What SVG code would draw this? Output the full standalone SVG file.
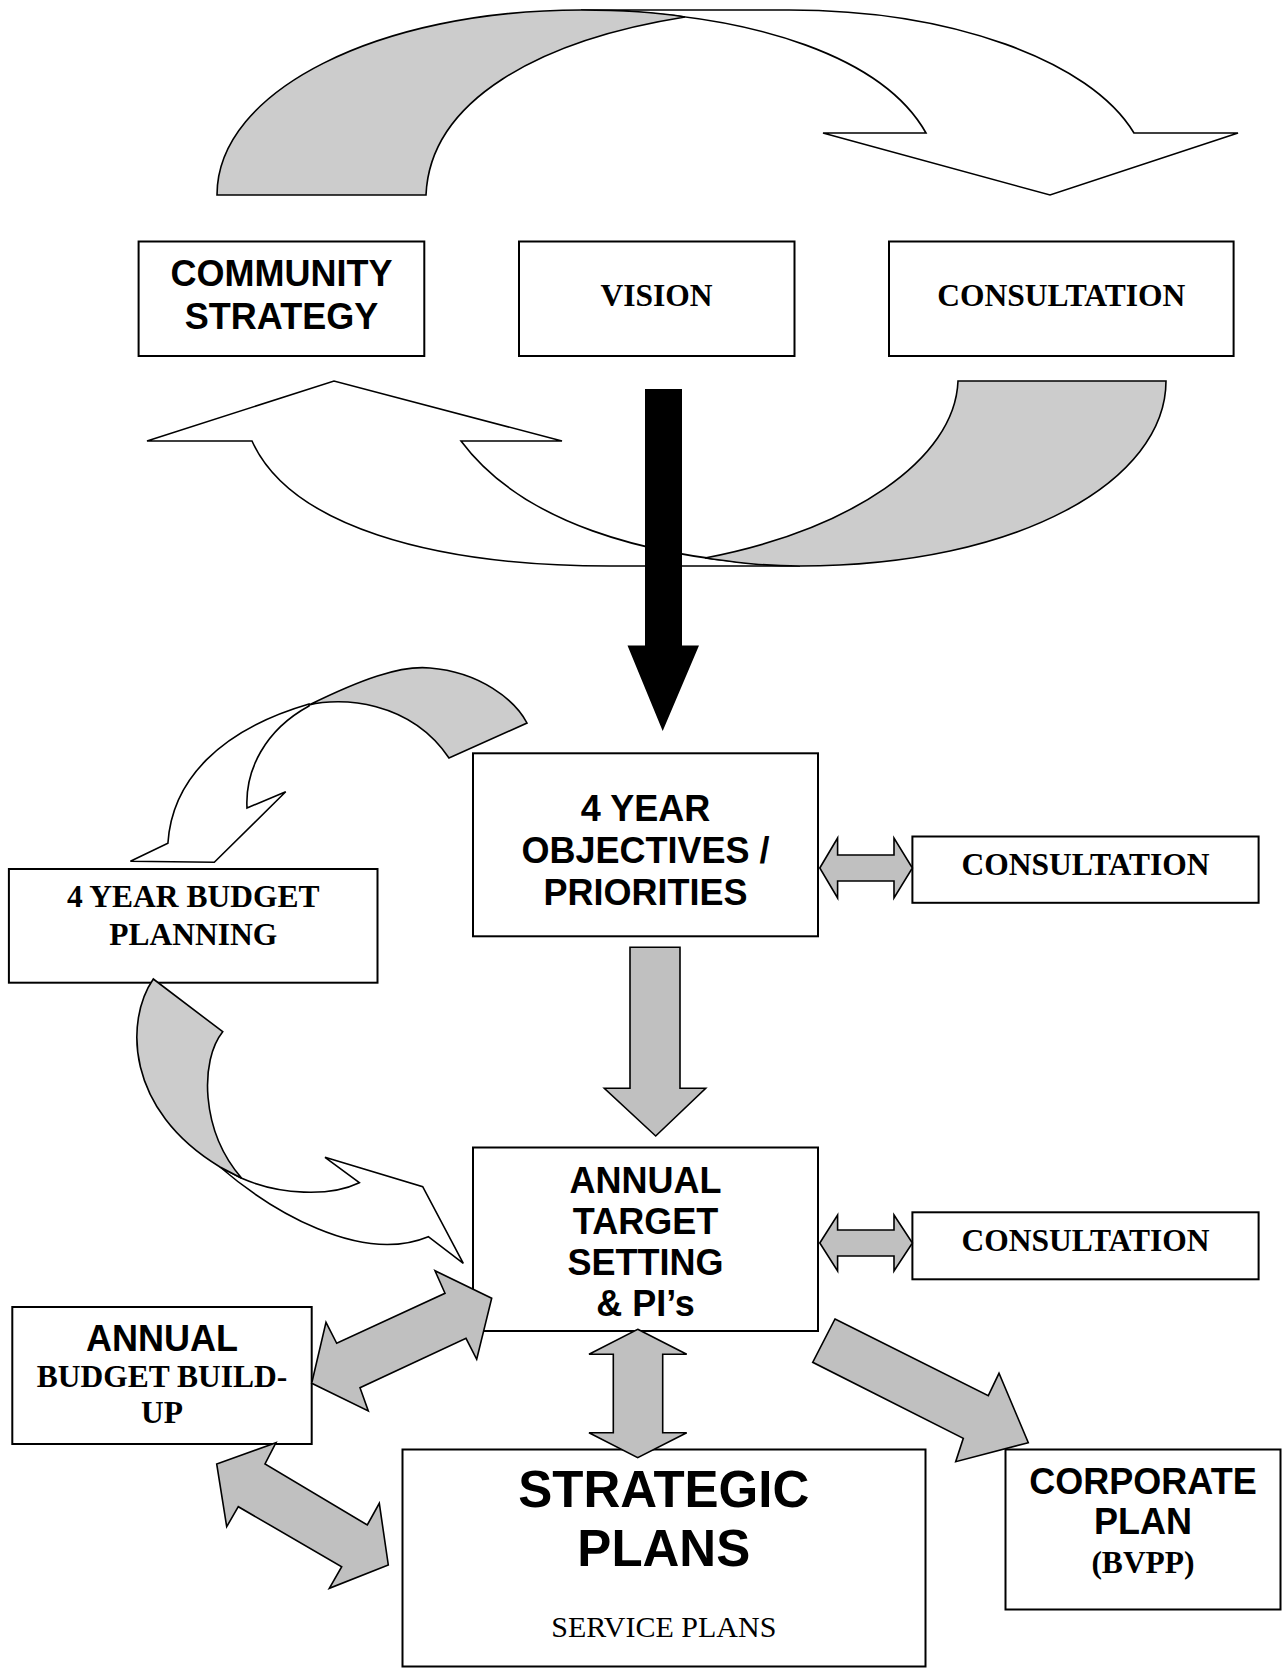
<svg xmlns="http://www.w3.org/2000/svg" width="1287" height="1674" viewBox="0 0 1287 1674">
<style>
.box{fill:#fff;stroke:#000;stroke-width:2}
.curve{stroke:#000;stroke-width:1.6;stroke-linejoin:miter}
.w{fill:#fff}
.g{fill:#ccc}
.dbl{fill:#c0c0c0;stroke:#000;stroke-width:1.6;stroke-linejoin:miter}
.blk{fill:#000;stroke:none}
.sans{font-family:"Liberation Sans",Arial,sans-serif;font-weight:bold;font-size:36px;text-anchor:middle;fill:#000}
.serif{font-family:"Liberation Serif","Times New Roman",serif;font-weight:bold;font-size:31.5px;text-anchor:middle;fill:#000}
.serifr{font-family:"Liberation Serif","Times New Roman",serif;font-weight:normal;font-size:30px;text-anchor:middle;fill:#000}
</style>
<rect width="1287" height="1674" fill="#fff"/>

<g id="community-strategy">
<rect class="box" x="138.6" y="241.5" width="285.7" height="114.5"/>
<text class="sans" x="281.5" y="286">COMMUNITY</text>
<text class="sans" x="281.5" y="329">STRATEGY</text>
</g>
<g id="vision">
<rect class="box" x="519" y="241.5" width="275.5" height="114.5"/>
<text class="serif" x="656.5" y="306">VISION</text>
</g>
<g id="consultation-1">
<rect class="box" x="889" y="241.5" width="344.6" height="114.5"/>
<text class="serif" x="1061.3" y="306">CONSULTATION</text>
</g>
<g id="budget-planning">
<rect class="box" x="8.9" y="869" width="368.6" height="113.7"/>
<text class="serif" x="193.2" y="907">4 YEAR BUDGET</text>
<text class="serif" x="193.2" y="945">PLANNING</text>
</g>
<g id="objectives">
<rect class="box" x="473" y="753.3" width="345" height="183"/>
<text class="sans" x="645.5" y="821">4 YEAR</text>
<text class="sans" x="645.5" y="863">OBJECTIVES /</text>
<text class="sans" x="645.5" y="905">PRIORITIES</text>
</g>
<g id="consultation-2">
<rect class="box" x="912.4" y="836.5" width="346.2" height="66.3"/>
<text class="serif" x="1085.5" y="875">CONSULTATION</text>
</g>
<g id="annual-target">
<rect class="box" x="473" y="1147.5" width="345" height="183.5"/>
<text class="sans" x="645.5" y="1193">ANNUAL</text>
<text class="sans" x="645.5" y="1234">TARGET</text>
<text class="sans" x="645.5" y="1275">SETTING</text>
<text class="sans" x="645.5" y="1316">&amp; PI’s</text>
</g>
<g id="consultation-3">
<rect class="box" x="912.4" y="1212.3" width="346.2" height="67"/>
<text class="serif" x="1085.5" y="1251">CONSULTATION</text>
</g>
<g id="annual-budget">
<rect class="box" x="12.3" y="1307" width="299.4" height="137"/>
<text class="sans" x="162" y="1350.7">ANNUAL</text>
<text class="serif" x="162" y="1386.7">BUDGET BUILD-</text>
<text class="serif" x="162" y="1423">UP</text>
</g>
<g id="strategic-plans">
<rect class="box" x="402.5" y="1449.5" width="523" height="217"/>
<text class="sans" x="663.8" y="1507" style="font-size:51px">STRATEGIC</text>
<text class="sans" x="663.8" y="1566" style="font-size:51px">PLANS</text>
<text class="serifr" x="663.8" y="1636.7">SERVICE PLANS</text>
</g>
<g id="corporate-plan">
<rect class="box" x="1005.5" y="1449.5" width="275" height="160"/>
<text class="sans" x="1143" y="1494">CORPORATE</text>
<text class="sans" x="1143" y="1534">PLAN</text>
<text class="serif" x="1143" y="1573">(BVPP)</text>
</g>

<g id="connectors">
<path class="curve w" d="M581,10 L789,10 C950,10 1090,60 1134,133 L1238,133 L1050,195 L823,133 L926,133 C885,60 760,12 581,10 Z"/>
<path class="curve g" d="M217,195 C217,90 380,10 581,10 C620,10 655,12 685,17 C540,40 430,100 426,195 Z"/>
<path class="curve w" d="M252,441 C290,525 430,566 610,566 L800,566 C640,560 520,520 461,441 L562,441 L334,381 L147,441 Z"/>
<path class="curve g" d="M958,381 L1166,381 C1166,480 1020,566 800,566 C760,566 735,562 705,558 C850,530 955,460 958,381 Z"/>
<path class="blk" d="M645,389 L682,389 L682,645.6 L699,645.6 L662.7,731 L627.5,645.6 L645,645.6 Z"/>
<path class="curve w" d="M247,808 L285.7,791.7 L214.3,862.3 L130.4,861.3 L167.9,843.3 C172,780 220,730 309,704 L309,706 C265,730 245,770 247,808 Z"/>
<path class="curve g" d="M309,705 C360,680 400,665 430,668 C480,672 515,700 527,723 L449,758 C410,700 340,697 309,705 Z"/>
<path class="curve w" d="M220,1167 C270,1210 360,1265 428.3,1236.7 L463.3,1263.3 L422.7,1186.7 L325,1157.3 L359.3,1182.7 C330,1197 280,1195 241.7,1178.3 Z"/>
<path class="curve g" d="M153.3,979 L222.7,1031.7 C200,1060 200,1130 241.7,1178.3 L220,1167 C125,1110 125,1020 153.3,979 Z"/>
<path class="dbl" d="M630,947.3 L680,947.3 L680,1088.3 L705.7,1088.3 L655.7,1136 L604.3,1088.3 L630,1088.3 Z"/>
<path class="dbl" d="M819.8,868 L837.6,838 L837.6,855 L894,855 L894,838 L912.4,868 L894,898 L894,881 L837.6,881 L837.6,898 Z"/>
<path class="dbl" d="M819.8,1243 L837.6,1215 L837.6,1230 L894,1230 L894,1215 L912.4,1243 L894,1271 L894,1256 L837.6,1256 L837.6,1271 Z"/>
<path class="dbl" d="M637.7,1329.3 L686.7,1354.3 L662.7,1354.3 L662.7,1432.7 L686.7,1432.7 L637.7,1457.7 L589,1432.7 L613.3,1432.7 L613.3,1354.3 L589,1354.3 Z"/>
<path class="dbl" d="M311.7,1383.3 L326,1322.3 L336.7,1343.3 L445,1293.3 L435,1270.7 L491.7,1298.3 L476.7,1359.3 L466,1338.3 L360,1387.7 L368.3,1411 Z"/>
<path class="dbl" d="M276,1442.7 L265,1464 L367.3,1525 L379.3,1503.3 L388.3,1565 L329.3,1588.3 L341.7,1566.7 L238.3,1506.7 L226.7,1526.7 L216.7,1464 Z"/>
<path class="dbl" d="M835,1319 L988.3,1395.7 L999,1373.3 L1028.3,1442.7 L955.7,1461.7 L963.3,1438.3 L812.7,1362.3 Z"/>
</g>
</svg>
